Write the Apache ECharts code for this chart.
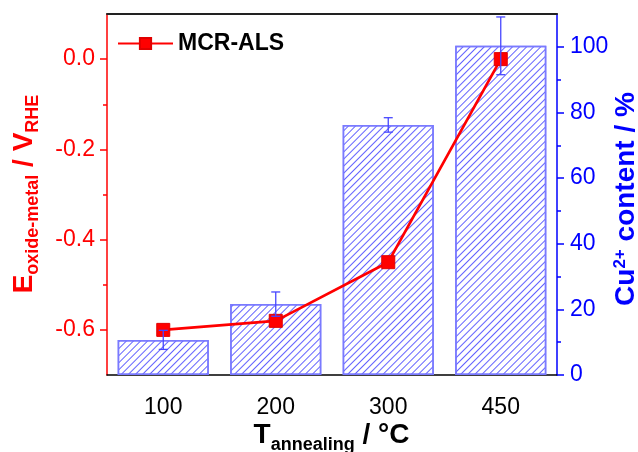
<!DOCTYPE html>
<html><head><meta charset="utf-8">
<script src="https://cdn.jsdelivr.net/npm/echarts@6/dist/echarts.min.js"></script>
<style>html,body{margin:0;padding:0;background:#fff}#c{width:638px;height:452px}</style>
</head><body><div id="c"></div>
<script>
const categories = ['100', '200', '300', '450'];
const potential = [-0.60, -0.58, -0.45, 0.0];
const cu2Content = [10.7, 21.6, 76.2, 100.3];
const cu2Error = [2.9, 3.7, 2.2, 8.8];
const leftTicks = [-0.6, -0.4, -0.2, 0.0];
const leftMinor = [-0.5, -0.3, -0.1];
const rightTicks = [0, 20, 40, 60, 80, 100];
const rightMinor = [10, 30, 50, 70, 90];

const FONT = 'Liberation Sans, Arial, sans-serif';

const chart = echarts.init(document.getElementById('c'), null, {renderer: 'canvas'});
const errData = categories.map((c, i) => [i, cu2Content[i] - cu2Error[i], cu2Content[i] + cu2Error[i]]);

chart.setOption({
  animation: false,
  backgroundColor: '#fff',
  textStyle: {fontFamily: FONT},
  grid: {left: 107, right: 81, top: 14, bottom: 77, containLabel: false},
  legend: {
    data: ['MCR-ALS'], left: 117, top: 32, padding: 0, itemWidth: 55, itemHeight: 14,
    textStyle: {fontSize: 23, fontWeight: 'bold', color: '#000', fontFamily: FONT}
  },
  xAxis: [
    {
      type: 'category', data: categories, position: 'bottom',
      axisLine: {onZero: false, lineStyle: {color: '#000', width: 1.5}},
      axisTick: {alignWithLabel: true, length: 6, lineStyle: {color: '#000', width: 1.5}},
      axisLabel: {fontSize: 23, color: '#000', margin: 21, fontFamily: FONT},
      splitLine: {show: false}
    },
    {
      type: 'category', data: categories, position: 'top',
      axisLine: {onZero: false, lineStyle: {color: '#222', width: 2}},
      axisTick: {show: false}, axisLabel: {show: false}, splitLine: {show: false}
    }
  ],
  yAxis: [
    {
      type: 'value', position: 'left', min: -0.7, max: 0.1, interval: 0.1,
      axisLine: {show: true, onZero: false, lineStyle: {color: '#ff0000', width: 1.5}},
      axisTick: {show: true, length: 7, customValues: leftTicks, lineStyle: {color: '#ff0000', width: 1.5}},
      axisLabel: {customValues: leftTicks, formatter: v => v.toFixed(1), color: '#ff0000', fontSize: 23, margin: 12, fontFamily: FONT},
      splitLine: {show: false}
    },
    {
      type: 'value', position: 'right', min: 0, max: 110, interval: 10,
      axisLine: {show: true, onZero: false, lineStyle: {color: '#0000ff', width: 1.5}},
      axisTick: {show: true, length: 7, customValues: rightTicks, lineStyle: {color: '#0000ff', width: 1.5}},
      axisLabel: {customValues: rightTicks, color: '#0000ff', fontSize: 23, margin: 13, fontFamily: FONT},
      splitLine: {show: false}
    },
    {
      type: 'value', position: 'left', min: -0.7, max: 0.1, interval: 0.1,
      axisLine: {show: false},
      axisTick: {show: true, length: 4, customValues: leftMinor, lineStyle: {color: '#ff0000', width: 1.5}},
      axisLabel: {show: false, customValues: leftMinor}, splitLine: {show: false}
    },
    {
      type: 'value', position: 'right', min: 0, max: 110, interval: 10,
      axisLine: {show: false},
      axisTick: {show: true, length: 4, customValues: rightMinor, lineStyle: {color: '#0000ff', width: 1.5}},
      axisLabel: {show: false, customValues: rightMinor}, splitLine: {show: false}
    }
  ],
  series: [
    {
      name: 'Cu2+', type: 'bar', yAxisIndex: 1, data: cu2Content, barWidth: '81%', z: 2,
      itemStyle: {
        color: '#ffffff', borderColor: '#7a7aff', borderWidth: 1.5,
        decal: {symbol: 'rect', symbolSize: 1, color: '#6262ff', dashArrayX: [1, 0], dashArrayY: [1, 3.5], rotation: -Math.PI / 4}
      }
    },
    {
      name: 'MCR-ALS', type: 'line', yAxisIndex: 0, data: potential, z: 3,
      symbol: 'rect', symbolSize: 13,
      lineStyle: {color: '#ff0000', width: 2.7},
      itemStyle: {color: '#ff0000', borderColor: '#e00000', borderWidth: 1}
    },
    {
      name: 'err', type: 'custom', yAxisIndex: 1, z: 4, data: errData,
      encode: {x: 0, y: [1, 2]},
      renderItem: function (params, api) {
        const x = api.value(0);
        const lo = api.coord([x, api.value(1)]);
        const hi = api.coord([x, api.value(2)]);
        const hw = 4.5;
        const st = {stroke: '#4646ff', lineWidth: 1.3};
        return {type: 'group', children: [
          {type: 'line', shape: {x1: lo[0], y1: lo[1], x2: hi[0], y2: hi[1]}, style: st},
          {type: 'line', shape: {x1: lo[0] - hw, y1: lo[1], x2: lo[0] + hw, y2: lo[1]}, style: st},
          {type: 'line', shape: {x1: hi[0] - hw, y1: hi[1], x2: hi[0] + hw, y2: hi[1]}, style: st}
        ]};
      }
    }
  ],
  graphic: [
    {
      type: 'text', x: 26, y: 194, rotation: Math.PI / 2,
      style: {
        text: '{m|E}{s|oxide-metal}{m| / V}{s|RHE}', align: 'center', verticalAlign: 'middle', fill: '#ff0000',
        rich: {
          m: {fontSize: 28, fontWeight: 'bold', fill: '#ff0000', fontFamily: FONT, verticalAlign: 'top'},
          s: {fontSize: 18, fontWeight: 'bold', fill: '#ff0000', fontFamily: FONT, verticalAlign: 'top', padding: [14, 0, 0, 0]}
        }
      }
    },
    {
      type: 'text', x: 626, y: 199, rotation: Math.PI / 2,
      style: {
        text: '{m|Cu}{p|2+}{m| content / %}', align: 'center', verticalAlign: 'middle', fill: '#0000ff',
        rich: {
          m: {fontSize: 28, fontWeight: 'bold', fill: '#0000ff', fontFamily: FONT, verticalAlign: 'top'},
          p: {fontSize: 17, fontWeight: 'bold', fill: '#0000ff', fontFamily: FONT, verticalAlign: 'top'}
        }
      }
    },
    {
      type: 'text', x: 331.5, y: 437.4,
      style: {
        text: '{m|T}{s|annealing}{m| / °C}', align: 'center', verticalAlign: 'middle', fill: '#000',
        rich: {
          m: {fontSize: 28, fontWeight: 'bold', fill: '#000', fontFamily: FONT, verticalAlign: 'top'},
          s: {fontSize: 18, fontWeight: 'bold', fill: '#000', fontFamily: FONT, verticalAlign: 'top', padding: [14.5, 0, 0, 0]}
        }
      }
    }
  ]
});
</script></body></html>
